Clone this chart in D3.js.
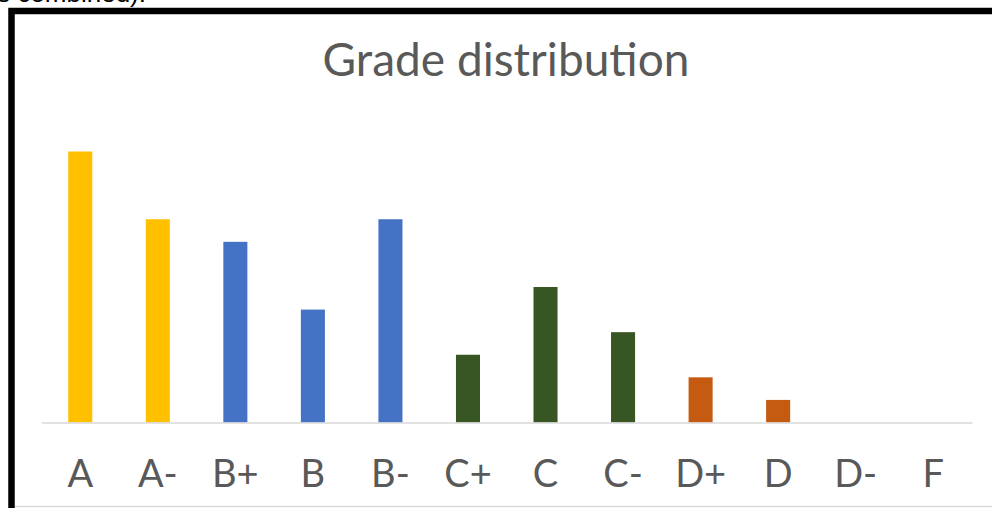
<!DOCTYPE html>
<html>
<head>
<meta charset="utf-8">
<script src="https://cdn.jsdelivr.net/npm/d3@7"></script>
<style>
  html, body { margin: 0; padding: 0; background: #fff; }
  svg { display: block; }
</style>
</head>
<body>
<svg id="chart" width="992" height="508"></svg>
<script>
const categories = ["A", "A-", "B+", "B", "B-", "C+", "C", "C-", "D+", "D", "D-", "F"];
const counts = [12, 9, 8, 5, 9, 3, 6, 4, 2, 1, 0, 0];
const groups = ["A", "A", "B", "B", "B", "C", "C", "C", "D", "D", "D", "F"];
const groupNames = ["A", "B", "C", "D", "F"];
const groupColors = ["#FFC000", "#4472C4", "#375623", "#C55A11", "#7F7F7F"];
const title = "Grade distribution";

const svg = d3.select("#chart");
const W = 992, H = 508;
const font = "Lato, 'Gill Sans', 'Noto Sans', sans-serif";

// cropped caption text from the page above the chart
svg.append("text")
  .attr("x", 146).attr("y", 2)
  .attr("text-anchor", "end")
  .attr("font-family", "'Liberation Sans', Arial, sans-serif")
  .attr("font-size", 26)
  .attr("fill", "#000")
  .text("grades combined).");

// chart frame (left and top black edges)
svg.append("rect")
  .attr("x", 11.5).attr("y", 11).attr("width", W + 20).attr("height", H + 20)
  .attr("fill", "#fff").attr("stroke", "#000").attr("stroke-width", 6.5);
svg.append("line")
  .attr("x1", 15).attr("x2", W).attr("y1", 506.5).attr("y2", 506.5)
  .attr("stroke", "#d9d9d9").attr("stroke-width", 1.5);

const x = d3.scaleBand().domain(categories).range([41.5, 972]).padding(0);
const y = d3.scaleLinear().domain([0, 12]).range([422.5, 151.5]);
const color = d3.scaleOrdinal().domain(groupNames).range(groupColors);
const barW = x.bandwidth() * 0.31;

// title
svg.append("text")
  .attr("x", 506).attr("y", 76)
  .attr("text-anchor", "middle")
  .attr("font-family", font)
  .attr("font-size", 46)
  .attr("fill", "#595959")
  .text(title);

// bars
svg.append("g").selectAll("rect")
  .data(categories.map((c, i) => ({ c, v: counts[i], g: groups[i] })))
  .join("rect")
  .attr("x", d => x(d.c) + (x.bandwidth() - barW) / 2)
  .attr("width", barW)
  .attr("y", d => y(d.v))
  .attr("height", d => y(0) - y(d.v))
  .attr("fill", d => color(d.g));

// x axis
const xAxis = svg.append("g")
  .attr("transform", `translate(0,${y(0)})`)
  .call(d3.axisBottom(x).tickSize(0).tickPadding(38));
xAxis.select(".domain").attr("stroke", "#d9d9d9").attr("stroke-width", 1.5);
xAxis.selectAll("text")
  .attr("font-family", font)
  .attr("font-size", 38)
  .attr("fill", "#595959");
</script>
</body>
</html>
